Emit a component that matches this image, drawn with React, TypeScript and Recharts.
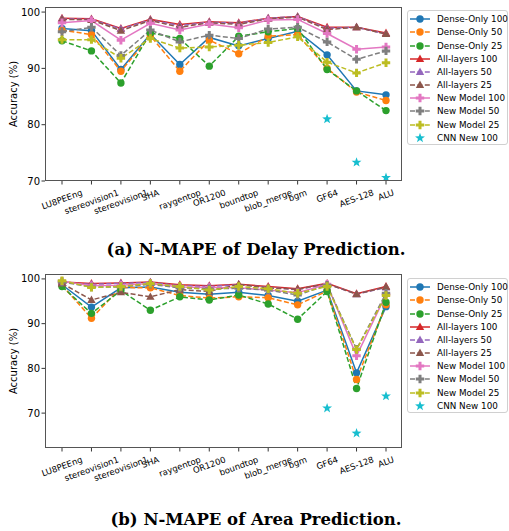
import React from "react";
import { LineChart, Line, XAxis, YAxis } from "recharts";

const categories = [
  "LU8PEEng",
  "stereovision1",
  "stereovision1",
  "SHA",
  "raygentop",
  "OR1200",
  "boundtop",
  "blob_merge",
  "bgm",
  "GF64",
  "AES-128",
  "ALU",
];

// (a) delay prediction accuracy
const delayDense100 = [97.1, 96.7, 89.8, 96.1, 90.7, 95.5, 94.0, 95.3, 96.6, 92.4, 86.0, 85.3];
const delayDense50 = [96.8, 96.0, 89.5, 95.8, 89.5, 95.0, 92.6, 95.7, 96.0, 90.0, 85.8, 84.3];
const delayDense25 = [94.9, 93.1, 87.4, 96.3, 95.3, 90.4, 95.7, 96.5, 97.1, 89.8, 86.0, 82.5];
const delayAll100 = [98.9, 98.8, 97.1, 98.7, 97.8, 98.3, 98.1, 98.9, 99.2, 97.3, 97.3, 96.3];
const delayAll50 = [98.8, 98.7, 97.0, 98.6, 97.6, 98.2, 98.0, 98.9, 99.2, 97.1, 97.3, 96.1];
const delayAll25 = [98.7, 98.6, 96.7, 98.5, 97.3, 98.1, 97.8, 98.8, 99.1, 96.9, 97.3, 96.1];
const delayNew100 = [98.1, 98.5, 95.0, 98.0, 96.8, 97.9, 97.2, 98.6, 98.7, 96.2, 93.4, 93.8];
const delayNew50 = [96.5, 97.3, 92.3, 96.8, 94.7, 95.9, 95.3, 97.0, 97.3, 94.7, 91.6, 93.1];
const delayNew25 = [95.1, 95.1, 91.8, 95.3, 93.6, 93.8, 94.1, 94.6, 95.6, 91.1, 89.2, 91.0];
const delayCnn100 = [null, null, null, null, null, null, null, null, null, 81.0, 73.3, 70.6];

// (b) area prediction accuracy
const areaDense100 = [98.7, 93.7, 98.0, 98.2, 97.0, 96.6, 97.0, 96.3, 95.0, 97.5, 79.0, 93.8];
const areaDense50 = [98.6, 91.2, 98.1, 98.0, 96.3, 95.7, 96.0, 95.8, 94.2, 97.3, 77.5, 94.2];
const areaDense25 = [98.3, 92.3, 97.4, 93.0, 96.0, 95.3, 96.4, 94.4, 91.0, 97.2, 75.5, 94.8];
const areaAll100 = [99.3, 99.0, 99.1, 99.3, 98.7, 98.5, 98.8, 98.3, 97.8, 99.0, 96.7, 98.3];
const areaAll50 = [99.2, 98.8, 99.0, 99.2, 98.5, 98.3, 98.7, 98.1, 97.6, 98.9, 96.6, 98.1];
const areaAll25 = [99.0, 95.3, 97.0, 96.0, 97.6, 97.2, 98.8, 98.0, 97.7, 98.9, 96.6, 98.2];
const areaNew100 = [99.5, 98.5, 98.6, 99.0, 98.2, 98.1, 98.0, 97.5, 96.9, 98.8, 82.8, 96.5];
const areaNew50 = [99.3, 98.2, 98.2, 98.8, 98.0, 97.8, 97.9, 97.5, 96.4, 98.6, 84.3, 96.8];
const areaNew25 = [99.6, 98.1, 98.3, 99.0, 98.3, 97.5, 98.3, 97.8, 96.8, 98.3, 84.2, 96.3];
const areaCnn100 = [null, null, null, null, null, null, null, null, null, 71.1, 65.5, 73.8];

const yTicks = [70, 80, 90, 100];

type Shape = "circle" | "triangle" | "plus" | "star";

const series: { key: string; name: string; color: string; dashed: boolean; shape: Shape; noLine?: boolean }[] = [
  { key: "d100", name: "Dense-Only 100", color: "#1f77b4", dashed: false, shape: "circle" },
  { key: "d50", name: "Dense-Only 50", color: "#ff7f0e", dashed: true, shape: "circle" },
  { key: "d25", name: "Dense-Only 25", color: "#2ca02c", dashed: true, shape: "circle" },
  { key: "a100", name: "All-layers 100", color: "#d62728", dashed: false, shape: "triangle" },
  { key: "a50", name: "All-layers 50", color: "#9467bd", dashed: true, shape: "triangle" },
  { key: "a25", name: "All-layers 25", color: "#8c564b", dashed: true, shape: "triangle" },
  { key: "n100", name: "New Model 100", color: "#e377c2", dashed: false, shape: "plus" },
  { key: "n50", name: "New Model 50", color: "#7f7f7f", dashed: true, shape: "plus" },
  { key: "n25", name: "New Model 25", color: "#bcbd22", dashed: true, shape: "plus" },
  { key: "cnn", name: "CNN New 100", color: "#17becf", dashed: false, shape: "star", noLine: true },
];

function buildRows(cols: (number | null)[][]) {
  return categories.map((_, i) => {
    const row: Record<string, number | null> = { i };
    series.forEach((s, k) => {
      row[s.key] = cols[k][i];
    });
    return row;
  });
}

const delayRows = buildRows([
  delayDense100, delayDense50, delayDense25,
  delayAll100, delayAll50, delayAll25,
  delayNew100, delayNew50, delayNew25, delayCnn100,
]);
const areaRows = buildRows([
  areaDense100, areaDense50, areaDense25,
  areaAll100, areaAll50, areaAll25,
  areaNew100, areaNew50, areaNew25, areaCnn100,
]);

function Marker({ cx, cy, shape, color }: { cx: number; cy: number; shape: Shape; color: string }) {
  if (shape === "circle") return <circle cx={cx} cy={cy} r={3.7} fill={color} />;
  if (shape === "triangle") {
    const pts = `${cx},${cy - 4.4} ${cx - 4.2},${cy + 3} ${cx + 4.2},${cy + 3}`;
    return <polygon points={pts} fill={color} />;
  }
  if (shape === "plus") {
    const a = 4.2;
    const t = 1.5;
    const d = `M${cx - t},${cy - a}H${cx + t}V${cy - t}H${cx + a}V${cy + t}H${cx + t}V${cy + a}H${cx - t}V${cy + t}H${cx - a}V${cy - t}H${cx - t}Z`;
    return <path d={d} fill={color} />;
  }
  const pts: string[] = [];
  for (let k = 0; k < 10; k++) {
    const r = k % 2 === 0 ? 5.2 : 2.1;
    const ang = -Math.PI / 2 + (k * Math.PI) / 5;
    pts.push(`${cx + r * Math.cos(ang)},${cy + r * Math.sin(ang)}`);
  }
  return <polygon points={pts.join(" ")} fill={color} />;
}

const makeDot = (shape: Shape, color: string) => (props: any) => {
  const { cx, cy, index, value } = props;
  if (value == null || cx == null || cy == null) return <g key={`e${index}`} />;
  return <Marker key={`m${index}`} cx={cx} cy={cy} shape={shape} color={color} />;
};

let measureCtx: CanvasRenderingContext2D | null = null;
function textWidth(s: string, font: string) {
  if (!measureCtx) measureCtx = document.createElement("canvas").getContext("2d");
  if (!measureCtx) return s.length * 5.2;
  measureCtx.font = font;
  return measureCtx.measureText(s).width;
}

function XTick(props: any) {
  const { x, y, payload } = props;
  const label = categories[payload.value] ?? "";
  const fs = 8.5;
  const w = textWidth(label, `${fs}px "DejaVu Sans"`);
  const a = (20 * Math.PI) / 180;
  const half = (w * Math.sin(a) + fs * 1.15 * Math.cos(a)) / 2;
  const cy = y + 1 + half;
  return (
    <text
      x={x}
      y={cy}
      transform={`rotate(-20 ${x} ${cy})`}
      textAnchor="middle"
      dominantBaseline="central"
      fontSize={fs}
      fontFamily="DejaVu Sans"
      fill="#000"
    >
      {label}
    </text>
  );
}

const CHART_W = 404;
const CHART_H = 240;
const PLOT_TOP = 7;
const PLOT_H = 174;

function AccuracyChart({ rows, domain }: { rows: Record<string, number | null>[]; domain: [number, number] }) {
  const cy = PLOT_TOP + PLOT_H / 2;
  return (
    <LineChart
      width={CHART_W}
      height={CHART_H}
      data={rows}
      margin={{ top: PLOT_TOP, right: 2, left: 0, bottom: CHART_H - PLOT_TOP - PLOT_H - 50 }}
    >
      <XAxis
        dataKey="i"
        type="category"
        height={50}
        padding={{ left: 17, right: 16 }}
        axisLine={false}
        tickLine={{ stroke: "#000", strokeWidth: 0.8 }}
        tickSize={3.5}
        tickMargin={2}
        interval={0}
        tick={<XTick />}
      />
      <YAxis
        type="number"
        domain={domain}
        ticks={yTicks}
        allowDataOverflow
        width={45}
        axisLine={false}
        tickLine={{ stroke: "#000", strokeWidth: 0.8 }}
        tickSize={3.5}
        tickMargin={1.5}
        tick={{ fontSize: 10, fill: "#000", fontFamily: "DejaVu Sans" }}
        label={{
          content: () => (
            <text
              x={13}
              y={cy}
              transform={`rotate(-90 13 ${cy})`}
              textAnchor="middle"
              dominantBaseline="central"
              fontSize={10}
              fontFamily="DejaVu Sans"
              fill="#000"
            >
              Accuracy (%)
            </text>
          ),
        }}
      />
      {series.map((s) => (
        <Line
          key={s.key}
          dataKey={s.key}
          name={s.name}
          type="linear"
          stroke={s.noLine ? "none" : s.color}
          strokeWidth={1.5}
          strokeDasharray={s.dashed ? "5 2.4" : undefined}
          dot={makeDot(s.shape, s.color)}
          activeDot={false}
          connectNulls={false}
          isAnimationActive={false}
        />
      ))}
    </LineChart>
  );
}

function LegendBox({ top }: { top: number }) {
  const rowGap = 13.15;
  return (
    <div
      style={{
        position: "absolute",
        left: 407,
        top,
        width: 101,
        height: 135,
        boxSizing: "border-box",
        border: "1px solid #d0d0d0",
        borderRadius: 3,
        background: "#fff",
      }}
    >
      {series.map((s, k) => (
        <div key={s.key} style={{ position: "absolute", left: 0, top: 8.3 + k * rowGap - 6, height: 12, width: 100 }}>
          <svg width={26} height={12} style={{ position: "absolute", left: 0, top: 0 }}>
            {!s.noLine && (
              <line
                x1={2}
                x2={22}
                y1={6}
                y2={6}
                stroke={s.color}
                strokeWidth={1.5}
                strokeDasharray={s.dashed ? "5 2.4" : undefined}
              />
            )}
            <Marker cx={12} cy={6} shape={s.shape} color={s.color} />
          </svg>
          <span
            style={{
              position: "absolute",
              left: 29,
              top: 0,
              lineHeight: "12px",
              fontSize: 8.8,
              fontFamily: "DejaVu Sans",
              color: "#000",
              whiteSpace: "nowrap",
            }}
          >
            {s.name}
          </span>
        </div>
      ))}
    </div>
  );
}

function Frame({ top }: { top: number }) {
  return (
    <div
      style={{
        position: "absolute",
        left: 45,
        top: top + PLOT_TOP,
        width: 357,
        height: PLOT_H,
        boxSizing: "border-box",
        border: "1px solid #555",
        pointerEvents: "none",
      }}
    />
  );
}

function Caption({ top, text }: { top: number; text: string }) {
  return (
    <div
      style={{
        position: "absolute",
        left: 0,
        top,
        width: 512,
        textAlign: "center",
        fontFamily: "DejaVu Serif",
        fontWeight: "bold",
        fontSize: 16.5,
        lineHeight: "16.5px",
        color: "#000",
        whiteSpace: "nowrap",
      }}
    >
      {text}
    </div>
  );
}

export default function App() {
  const bottomTop = 267;
  return (
    <div style={{ position: "absolute", left: 0, top: 0, width: 509, height: 531, background: "#fff", overflow: "hidden" }}>
      <div style={{ position: "absolute", left: 0, top: 0 }}>
        <AccuracyChart rows={delayRows} domain={[70, 100.9]} />
      </div>
      <Frame top={0} />
      <LegendBox top={10} />
      <Caption top={242} text="(a) N-MAPE of Delay Prediction." />

      <div style={{ position: "absolute", left: 0, top: bottomTop }}>
        <AccuracyChart rows={areaRows} domain={[62.2, 101.1]} />
      </div>
      <Frame top={bottomTop} />
      <LegendBox top={278} />
      <Caption top={512} text="(b) N-MAPE of Area Prediction." />
    </div>
  );
}
